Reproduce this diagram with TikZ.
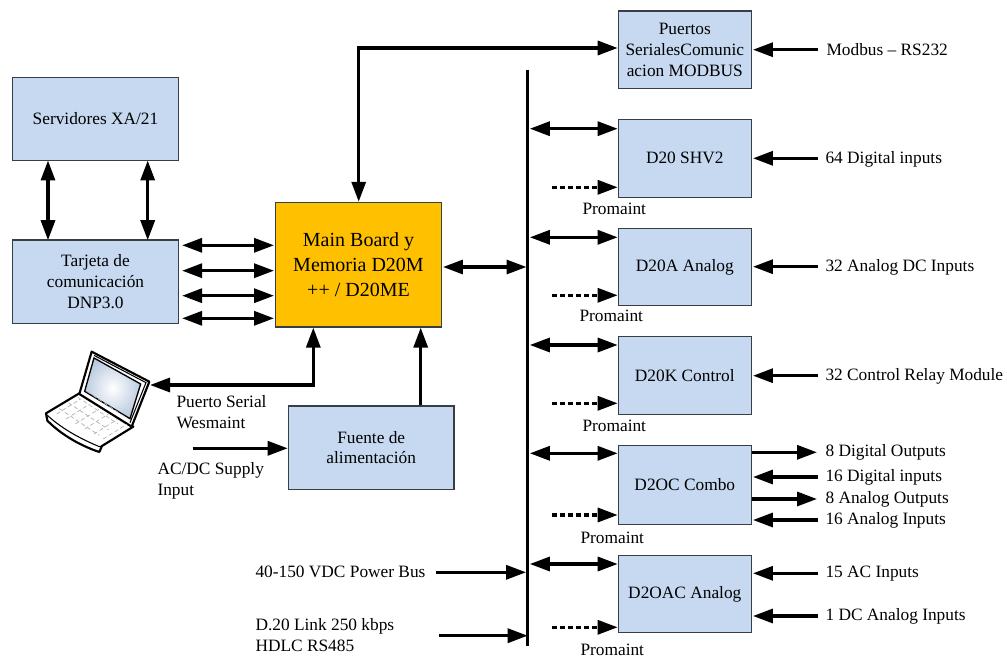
\documentclass[tikz,border=0pt]{standalone}
\usepackage{fontspec}
\setmainfont{Liberation Serif}
\usetikzlibrary{arrows.meta}
\definecolor{boxblue}{RGB}{198,217,241}
\definecolor{boxgold}{RGB}{255,192,0}
\definecolor{boxline}{RGB}{55,62,70}
\tikzset{
  every picture/.style={line width=0.75pt},
  modbox/.style={draw=boxline,fill=boxblue,line width=0.9pt,align=center,inner sep=0pt,font=\fontsize{13}{15.5}\selectfont},
  lbl/.style={anchor=west,inner sep=0pt,align=left,font=\fontsize{13}{15.5}\selectfont},
  onearrow/.style={line width=2.4pt,-{Triangle[length=15pt,width=10.5pt]}},
  biarrow/.style={line width=2.4pt,{Triangle[length=15pt,width=10.5pt]}-{Triangle[length=15pt,width=10.5pt]}},
  dasharrow/.style={line width=2.4pt,dash pattern={on 3.4pt off 2.6pt},-{Triangle[length=15pt,width=10.5pt]}},
}
\begin{document}
\begin{tikzpicture}[x=0.75pt,y=0.75pt,yscale=-1,xscale=1]
\useasboundingbox (0,0) rectangle (1007,659);

% left side
\node [modbox,minimum width=124.2pt,minimum height=62.5pt] (servers) at (95.5,119) {Servidores XA/21};
\node [modbox,minimum width=124.2pt,minimum height=62.5pt] (dnp) at (95.5,281.7) {Tarjeta de\\comunicación\\DNP3.0};
\node [modbox,fill=boxgold,minimum width=124.2pt,minimum height=93.5pt,font=\fontsize{15}{18.5}\selectfont] (main) at (358.5,264.7) {Main Board y\\Memoria D20M\\++ / D20ME};
\node [modbox,minimum width=124.3pt,minimum height=62.5pt] (supply) at (371.2,447.7) {Fuente de\\alimentación};

% right side
\node [modbox,minimum width=99.75pt,minimum height=58.3pt] (ports) at (684.8,49.8) {Puertos\\SerialesComunic\\acion MODBUS};
\node [modbox,minimum width=99.75pt,minimum height=58.5pt] (shv) at (684.8,158.3) {D20 SHV2};
\node [modbox,minimum width=99.75pt,minimum height=58pt] (analog) at (684.8,267) {D20A Analog};
\node [modbox,minimum width=99.75pt,minimum height=58.2pt] (control) at (684.8,375.5) {D20K Control};
\node [modbox,minimum width=99.75pt,minimum height=59pt] (combo) at (684.8,485) {D2OC Combo};
\node [modbox,minimum width=99.75pt,minimum height=58pt] (acan) at (684.8,594) {D2OAC Analog};

% bus
\coordinate (bustop) at (527.7,70);
\coordinate (busbot) at (527.7,646);
\draw [line width=2.5pt] (bustop) -- (busbot);

% laptop
\begin{scope}[shift={(20,330)},scale=0.3333]
\filldraw [fill=white,line width=1.6pt,line join=round] (178,190) -- (78,250) -- (82,272) .. controls (130,320) and (190,350) .. (238,366) -- (246,348) -- (340,290) -- cycle;
\filldraw [fill=white,line width=1.6pt,line join=round] (215,65) -- (388,155) -- (335,290) -- (178,192) -- cycle;
\draw [line width=0.8pt] (222,76) -- (378,158) -- (330,278);
\shade [inner color=white,outer color=boxblue!85!gray,draw=black,line width=1pt] (222,84) -- (362,162) -- (330,266) -- (194,184) -- cycle;
\draw [line width=0.8pt] (82,256) .. controls (130,300) and (190,330) .. (238,350) -- (246,348);
\foreach \k in {0,1,2,3}
  \draw [gray!60,densely dashed,line width=0.5pt] (118+\k*28,236-\k*17) -- (238+\k*28,316-\k*17);
\foreach \k in {0,1,2,3,4,5}
  \draw [gray!60,densely dashed,line width=0.5pt] (110+\k*28,252+\k*15) -- (180+\k*28,208+\k*15);
\end{scope}
\coordinate (pctip) at (150,385);
\coordinate (pccorner) at (313.3,385);

% connectors left
\foreach \xx in {48,147.7}
  \draw [biarrow] ([yshift=-0.6pt]servers.south -| \xx,0) -- ([yshift=0.6pt]dnp.north -| \xx,0);
\foreach \yy in {245.3,270.7,295.7,318.3}
  \draw [biarrow] ([xshift=2.4pt]dnp.east |- 0,\yy) -- ([xshift=-0.8pt]main.west |- 0,\yy);
\draw [biarrow] (pctip) -- (pccorner) -- (pccorner |- main.south);
\draw [onearrow] (420.7,0 |- supply.north) -- (420.7,0 |- main.south);
\coordinate (acin) at (192.7,448.3);
\draw [onearrow] (acin) -- (supply.west |- acin);

% connectors to the ports box
\coordinate (portcorner) at (358.7,48);
\draw [biarrow] (portcorner |- main.north) -- (portcorner) -- (ports.west |- portcorner);
\coordinate (mbus) at (818,49.7);
\draw [onearrow] (mbus) -- ([xshift=0.8pt]ports.east |- mbus);

% bus connectors
\draw [biarrow] ([xshift=0.8pt]main.east |- 0,267) -- ([xshift=-0.9pt]bustop |- 0,267);
\foreach \m/\ya/\yb in {shv/128.7/187.3,analog/237.3/295.3,control/345/403.3,combo/453.3/515,acan/564/627.3}{
  \draw [biarrow] ([xshift=1.6pt]bustop |- 0,\ya) -- (\m.west |- 0,\ya);
  \coordinate (dash\m) at (552,\yb);
  \draw [dasharrow] (dash\m) -- (\m.west |- dash\m);
}
\coordinate (pwr) at (436,572.3);
\draw [onearrow] (pwr) -- ([xshift=-1.2pt]bustop |- pwr);
\coordinate (lnk) at (439,635.7);
\draw [onearrow] (lnk) -- (bustop |- lnk);

% inputs and outputs
\foreach \m/\yy/\txt in {shv/158.3/64 Digital inputs,analog/266.7/32 Analog DC Inputs,control/375.7/32 Control Relay Module,combo/477/16 Digital inputs,combo/520/16 Analog Inputs,acan/573.3/15 AC Inputs,acan/616/1 DC Analog Inputs}{
  \coordinate (in) at (818,\yy);
  \draw [onearrow] (in) -- ([xshift=0.8pt]\m.east |- in);
  \node [lbl] at (825,\yy+0.7) {\txt};
}
\foreach \yy/\txt in {452.3/8 Digital Outputs,499/8 Analog Outputs}{
  \coordinate (out) at (817,\yy);
  \draw [onearrow] (combo.east |- out) -- (out);
  \node [lbl] at (825,\yy+0.5) {\txt};
}

% labels
\node [lbl] (lmodbus) at (826,49.7) {Modbus -- RS232};
\foreach \xx/\yy in {582/209,579/316,582/426,580/538,580/650}
  \node [lbl] at (\xx,\yy) {Promaint};
\node [lbl] (lserial) at (176,412) {Puerto Serial\\Wesmaint};
\node [lbl] (lacdc) at (157,481) {AC/DC Supply\\Input};
\node [lbl] (lpower) at (255,572.3) {40-150 VDC Power Bus};
\node [lbl] (llink) at (255,635) {D.20 Link 250 kbps\\HDLC RS485};
\end{tikzpicture}
\end{document}
